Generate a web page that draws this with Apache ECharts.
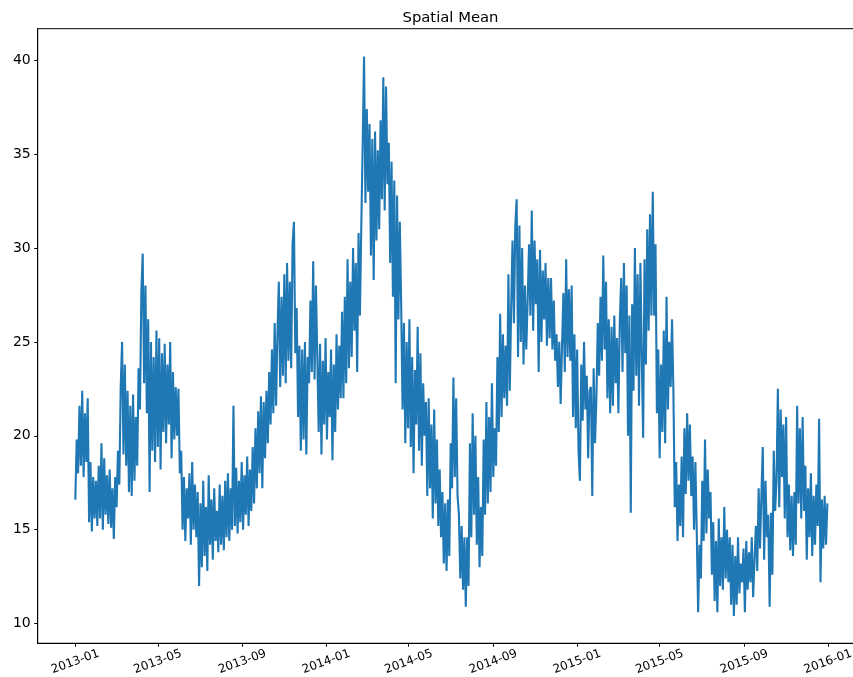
<!DOCTYPE html>
<html>
<head>
<meta charset="utf-8">
<script src="https://cdn.jsdelivr.net/npm/echarts@6/dist/echarts.min.js"></script>
<style>
html,body{margin:0;padding:0;background:#fff;overflow:hidden;width:853px;height:677px;}
#chart{width:872px;height:677px;}
</style>
</head>
<body>
<div id="chart"></div>
<script>
// ---- data (one sample every 2 days from 2013-01-01) ----
const seriesName = 'Spatial Mean';
const startYear = 2013, startMonth = 1, startDay = 1;
const stepDays = 2;
const spatialMean = [
  16.6, 19.8, 18.0, 21.6, 18.4, 22.4, 17.8, 21.2, 18.6, 22.0, 15.4, 18.6, 14.9, 17.8, 15.6,
  17.6, 15.2, 18.4, 15.6, 19.6, 15.0, 18.8, 15.8, 17.9, 15.3, 18.2, 15.1, 17.2, 14.5, 17.8,
  16.2, 19.2, 17.4, 22.6, 25.0, 19.0, 23.8, 18.4, 22.4, 17.0, 21.6, 16.8, 22.2, 17.6, 21.0,
  18.4, 23.6, 21.4, 27.6, 29.7, 22.8, 28.0, 21.2, 26.2, 17.0, 25.0, 19.2, 24.2, 18.6, 25.6,
  19.4, 25.2, 18.2, 24.4, 20.2, 24.9, 19.6, 23.8, 20.6, 25.0, 18.8, 23.4, 19.8, 22.6, 20.0,
  22.5, 18.0, 19.2, 15.0, 17.8, 14.4, 17.2, 15.6, 18.0, 14.2, 18.6, 15.0, 17.4, 14.6, 17.0,
  12.0, 16.4, 13.0, 17.6, 13.6, 16.2, 12.8, 17.9, 14.2, 16.6, 13.4, 17.2, 14.4, 16.0, 13.8,
  17.4, 14.2, 16.8, 13.9, 17.6, 14.6, 18.0, 14.4, 17.2, 15.0, 21.6, 15.2, 18.3, 14.8, 17.6,
  15.4, 18.6, 15.0, 17.9, 15.8, 18.9, 15.2, 18.2, 16.0, 19.4, 16.4, 20.4, 17.2, 21.3, 18.0,
  22.1, 17.2, 21.8, 18.8, 22.4, 19.6, 23.4, 20.6, 24.6, 21.2, 26.0, 21.6, 25.4, 28.2, 22.6,
  27.4, 23.2, 28.6, 22.8, 29.2, 24.0, 28.2, 23.6, 30.2, 31.4, 24.4, 26.8, 21.0, 24.8, 19.2,
  24.6, 19.8, 25.0, 19.0, 24.2, 22.8, 27.2, 23.4, 29.3, 23.0, 28.0, 24.2, 20.2, 24.9, 19.0,
  24.0, 20.6, 25.2, 19.8, 23.4, 21.0, 24.6, 18.7, 23.8, 20.2, 25.4, 21.4, 24.8, 22.0, 26.6,
  22.0, 27.4, 22.8, 29.4, 23.6, 28.2, 24.2, 30.0, 25.6, 29.2, 23.4, 30.8, 26.4, 31.2, 35.5,
  40.2, 32.4, 37.4, 33.0, 36.6, 29.6, 35.8, 28.3, 36.2, 30.4, 35.2, 31.0, 36.8, 32.6, 39.1,
  32.0, 38.6, 33.4, 35.6, 29.2, 34.6, 27.4, 33.6, 22.8, 32.8, 26.2, 31.4, 27.0, 21.4, 26.0,
  19.6, 25.0, 20.4, 26.2, 19.4, 24.2, 18.0, 23.5, 20.6, 25.8, 19.2, 24.4, 18.4, 22.8, 20.0,
  21.8, 16.8, 22.0, 17.2, 20.6, 15.6, 21.4, 16.4, 19.8, 15.2, 18.2, 14.6, 17.0, 13.2, 16.4,
  12.8, 16.6, 13.6, 19.6, 17.2, 23.1, 17.8, 22.0, 16.8, 15.8, 12.4, 15.2, 11.8, 14.6, 10.9,
  14.6, 12.0, 19.6, 14.6, 21.2, 15.8, 20.0, 14.2, 17.8, 13.0, 16.2, 13.6, 19.8, 15.8, 21.8,
  16.4, 21.0, 17.0, 22.8, 17.8, 20.4, 18.4, 24.2, 20.2, 26.5, 21.0, 25.4, 22.0, 24.8, 21.6,
  28.6, 22.4, 26.8, 30.4, 26.0, 31.2, 32.6, 24.2, 31.2, 25.0, 30.0, 23.8, 28.0, 24.6, 27.2,
  30.2, 26.4, 32.0, 25.6, 30.4, 27.0, 29.4, 23.4, 29.9, 25.0, 28.8, 26.2, 29.2, 24.8, 28.4,
  25.2, 28.4, 24.6, 27.2, 24.0, 25.4, 22.6, 25.0, 21.7, 24.8, 27.6, 23.4, 29.4, 24.2, 27.8,
  24.0, 28.0, 21.0, 25.4, 20.4, 24.6, 19.2, 17.6, 23.8, 20.8, 25.0, 21.4, 23.2, 18.8, 22.4,
  22.6, 16.8, 23.6, 19.6, 22.0, 26.0, 23.2, 27.4, 24.0, 29.6, 24.6, 28.2, 22.0, 26.2, 21.2,
  25.8, 21.6, 26.4, 22.8, 25.2, 21.2, 26.0, 28.4, 23.4, 29.2, 24.4, 28.0, 20.0, 26.4, 15.9,
  27.0, 22.4, 30.0, 23.2, 28.6, 21.6, 29.2, 24.2, 19.9, 29.4, 23.8, 31.0, 25.6, 31.8, 26.4,
  33.0, 26.4, 30.2, 21.2, 24.6, 18.8, 23.8, 20.2, 25.6, 19.6, 27.4, 21.4, 25.0, 22.6, 26.2,
  22.4, 16.2, 18.6, 14.4, 17.4, 15.2, 18.9, 14.6, 20.4, 16.9, 21.2, 17.6, 20.6, 16.8, 18.9,
  15.0, 18.6, 14.8, 10.6, 14.2, 12.4, 17.6, 14.4, 19.8, 14.8, 18.2, 15.6, 17.0, 12.6, 15.4,
  11.2, 14.4, 10.6, 15.6, 12.0, 14.6, 11.8, 16.2, 12.4, 15.0, 12.2, 14.6, 11.0, 14.2, 10.4,
  13.6, 11.0, 14.6, 11.6, 13.2, 12.2, 14.0, 10.6, 14.4, 11.8, 13.8, 12.2, 14.6, 11.4, 13.4,
  15.2, 12.8, 17.2, 14.0, 16.8, 19.4, 13.4, 17.6, 14.6, 15.8, 10.9, 15.9, 12.6, 19.2, 16.0,
  17.6, 22.5, 16.2, 21.4, 17.8, 20.6, 15.6, 21.0, 14.6, 17.4, 13.9, 16.8, 13.6, 17.0, 14.2,
  21.6, 16.4, 20.4, 15.6, 21.0, 16.0, 18.4, 13.4, 17.2, 14.6, 18.0, 13.6, 16.8, 14.2, 17.4,
  15.2, 20.9, 12.2, 16.6, 14.0, 16.8, 14.2, 16.4
];
const xTickLabels = ['2013-01','2013-05','2013-09','2014-01','2014-05','2014-09','2015-01','2015-05','2015-09','2016-01'];
const yTickLabels = [10, 15, 20, 25, 30, 35, 40];

// ---- build ----
const DAY = 86400000;
const t0 = Date.UTC(startYear, startMonth - 1, startDay);
const lineData = spatialMean.map((v, i) => [t0 + i * stepDays * DAY, v]);
const xTickValues = xTickLabels.map(s => { const p = s.split('-'); return Date.UTC(+p[0], +p[1] - 1, 1); });
const pad = 54.75 * DAY;
const xMin = xTickValues[0] - pad;
const xMax = xTickValues[xTickValues.length - 1] + pad;

function fmtX(v) {
  const d = new Date(v);
  const m = d.getUTCMonth() + 1;
  return d.getUTCFullYear() + '-' + (m < 10 ? '0' + m : m);
}

const chart = echarts.init(document.getElementById('chart'), null, {renderer: 'canvas'});
const font = "'DejaVu Sans', sans-serif";
chart.setOption({
  animation: false,
  backgroundColor: '#ffffff',
  graphic: {
    elements: [{
      type: 'text',
      x: 450.5,
      y: 18.5,
      style: {
        text: seriesName,
        align: 'center',
        verticalAlign: 'middle',
        fontFamily: 'DejaVu Sans',
        fontSize: 14.8,
        fill: '#000'
      }
    }]
  },
  grid: {
    left: 37.7, top: 28.7, width: 828, height: 615.3,
    show: true, borderColor: '#000', borderWidth: 1, backgroundColor: 'transparent'
  },
  xAxis: {
    type: 'value',
    min: xMin, max: xMax,
    scale: true,
    splitLine: {show: false},
    axisLine: {show: true, lineStyle: {color: '#000', width: 1}},
    axisTick: {show: true, length: 3.5, lineStyle: {color: '#000'}, customValues: xTickValues},
    axisLabel: {
      customValues: xTickValues,
      rotate: 20,
      align: 'center',
      verticalAlign: 'middle',
      margin: 18.5,
      fontFamily: font, fontSize: 12, color: '#000',
      formatter: fmtX,
      hideOverlap: false
    }
  },
  yAxis: {
    type: 'value',
    min: 8.95, max: 41.68,
    splitLine: {show: false},
    axisLine: {show: true, lineStyle: {color: '#000', width: 1}},
    axisTick: {show: true, length: 3.5, lineStyle: {color: '#000'}, customValues: yTickLabels},
    axisLabel: {
      customValues: yTickLabels,
      margin: 7,
      fontFamily: font, fontSize: 14, color: '#000'
    }
  },
  series: [{
    type: 'line',
    name: seriesName,
    data: lineData,
    showSymbol: false,
    symbol: 'none',
    lineStyle: {color: '#1f77b4', width: 2.1, join: 'bevel'},
    clip: true
  }]
});
</script>
</body>
</html>
